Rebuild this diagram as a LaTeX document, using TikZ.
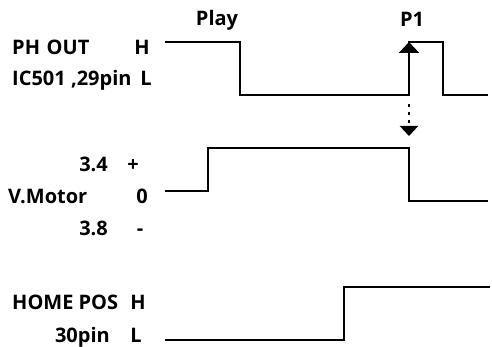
\documentclass[tikz,border=0pt]{standalone}
\usepackage{fontspec}
\setmainfont{Open Sans}
\usetikzlibrary{arrows.meta}
\begin{document}
\begin{tikzpicture}[x=1pt,y=-1pt,
  wave/.style={line width=1.8pt, line join=miter},
  lbl/.style={font=\bfseries\fontsize{20}{24}\selectfont, inner sep=0pt}]
\useasboundingbox (0,0) rectangle (492,347);
% labels
\node[lbl, anchor=base] (play) at (217,26) {Play};
\node[lbl, anchor=base] (p1) at (412,27) {P1};
\node[lbl, anchor=base west] (phout) at (12,55) {PH\,\,OUT};
\node[lbl, anchor=base] (phH) at (142,55) {H};
\node[lbl, anchor=base west] (ic) at (12,86) {IC501 ,29pin};
\node[lbl, anchor=base] (icL) at (146,86) {L};
\node[lbl, anchor=base east] (v34) at (108,172) {3.4};
\node[lbl, anchor=base] (vplus) at (133,172) {+};
\node[lbl, anchor=base west] (vm) at (8,204) {V.Motor};
\node[lbl, anchor=base] (vzero) at (142,204) {0};
\node[lbl, anchor=base east] (v38) at (108,236) {3.8};
\node[lbl, anchor=base] (vminus) at (140,236) {-};
\node[lbl, anchor=base west] (hp) at (12,309) {HOME POS};
\node[lbl, anchor=base] (hpH) at (138,309) {H};
\node[lbl, anchor=base east] (p30) at (110,342) {30pin};
\node[lbl, anchor=base] (p30L) at (136,342) {L};
% waveforms
\draw[wave] (165,42) -- (240,42) -- (240,95) -- (409,95) -- (409,42) -- (443,42) -- (443,95) -- (488,95);
\draw[wave] (165,191) -- (208,191) -- (208,148) -- (409,148) -- (409,201) -- (488,201);
\draw[wave] (165,340) -- (344,340) -- (344,287) -- (490,287);
% arrows
\coordinate (aup0) at (409,95);
\coordinate (aup1) at (409,42);
\draw[line width=2.4pt, -{Triangle[width=20pt,length=11pt]}] (aup0) -- (aup1);
\coordinate (adn0) at (409,104);
\coordinate (adn1) at (409,136);
\draw[line width=2.6pt, dash pattern=on 3pt off 5pt, -{Triangle[width=18pt,length=10pt]}] (adn0) -- (adn1);
\end{tikzpicture}
\end{document}
